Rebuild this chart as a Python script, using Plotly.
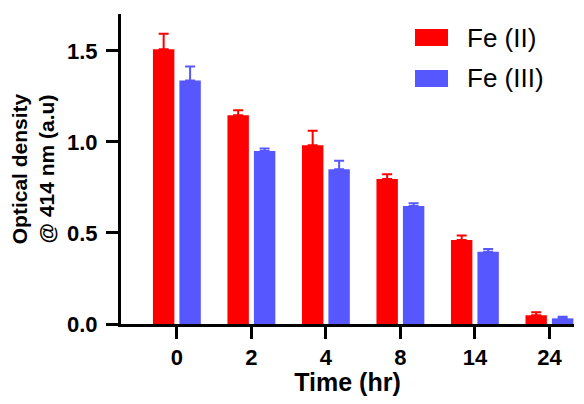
import plotly.graph_objects as go

categories = ["0", "2", "4", "8", "14", "24"]
fe2_values = [1.51, 1.147, 0.982, 0.797, 0.462, 0.048]
fe2_errors = [0.085, 0.027, 0.080, 0.025, 0.024, 0.016]
fe3_values = [1.337, 0.951, 0.850, 0.648, 0.397, 0.031]
fe3_errors = [0.077, 0.013, 0.047, 0.016, 0.015, 0.009]
series_names = ["Fe (II)", "Fe (III)"]
y_ticks = [0.0, 0.5, 1.0, 1.5]

RED = "#FF0000"
BLUE = "#5757FF"
FONT = "Liberation Sans"

fig = go.Figure()
for name, vals, errs, col in [
    (series_names[0], fe2_values, fe2_errors, RED),
    (series_names[1], fe3_values, fe3_errors, BLUE),
]:
    fig.add_trace(go.Bar(
        x=categories, y=vals, name=name,
        marker=dict(color=col, line=dict(width=0)),
        error_y=dict(type="data", symmetric=False, array=errs,
                     arrayminus=[0] * len(errs), color=col,
                     thickness=2, width=5),
        showlegend=False,
    ))

# custom legend (swatches + labels)
for i, (name, col) in enumerate(zip(series_names, [RED, BLUE])):
    y0 = 29 + i * 41
    fig.add_shape(type="rect", xref="paper", yref="paper",
                  x0=(415 - 121) / 453, x1=(448 - 121) / 453,
                  y0=(324 - (y0 + 17)) / 310, y1=(324 - y0) / 310,
                  fillcolor=col, line=dict(width=0))
    fig.add_annotation(xref="paper", yref="paper",
                       x=(465 - 121) / 453, y=(324 - (y0 + 8.5)) / 310,
                       xanchor="left", yanchor="middle", showarrow=False,
                       text=name, font=dict(family=FONT, size=26, color="black"))

fig.update_layout(
    width=568, height=388,
    margin=dict(l=113, r=2, t=6, b=72),
    paper_bgcolor="white", plot_bgcolor="white",
    barmode="group", bargap=0.29, bargroupgap=0.19,
    font=dict(family=FONT, color="black"),
)
fig.update_xaxes(
    type="category", range=[-0.75, 5.33], automargin=False,
    showline=True, linecolor="black", linewidth=3,
    ticks="outside", ticklen=12, tickwidth=3, tickcolor="black",
    tickfont=dict(family=FONT, size=22, weight="bold"),
    title=dict(text="Time (hr)", font=dict(family=FONT, size=25, weight="bold"), standoff=6),
    showgrid=False, zeroline=False,
)
fig.update_yaxes(
    range=[0, 1.703], tickvals=y_ticks, ticktext=["0.0", "0.5", "1.0", "1.5"],
    automargin=False, ticklabelstandoff=4,
    showline=True, linecolor="black", linewidth=3,
    ticks="outside", ticklen=12, tickwidth=3, tickcolor="black",
    tickfont=dict(family=FONT, size=22, weight="bold"),
    title=dict(text="Optical density<br>@ 414 nm (a.u)", font=dict(family=FONT, size=21, weight="bold"), standoff=10),
    showgrid=False, zeroline=False,
)

fig.write_html("out.html")
